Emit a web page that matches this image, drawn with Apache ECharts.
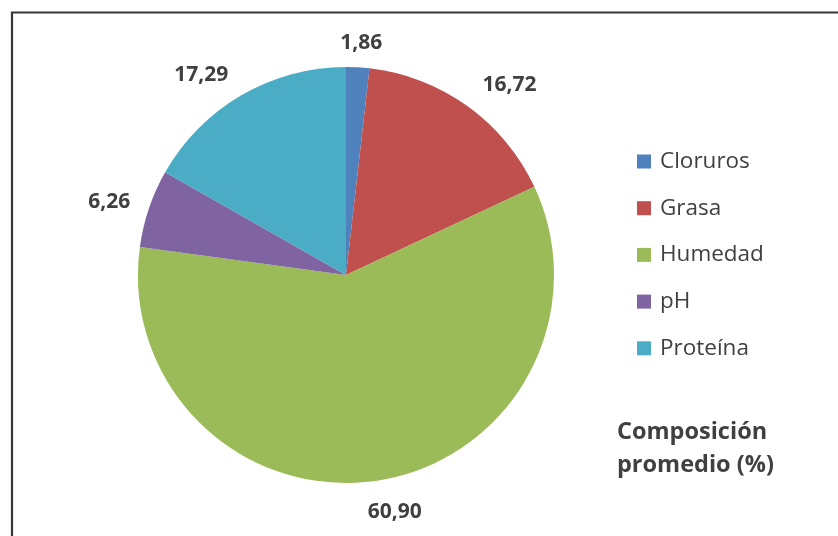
<!DOCTYPE html>
<html>
<head>
<meta charset="utf-8">
<script src="https://cdn.jsdelivr.net/npm/echarts@6/dist/echarts.min.js"></script>
<style>
  html, body { margin: 0; padding: 0; background: #ffffff; }
  #chart { width: 838px; height: 536px; }
</style>
</head>
<body>
<div id="chart"></div>
<script>
// Average composition of the product, in percent
const categories = ['Cloruros', 'Grasa', 'Humedad', 'pH', 'Proteína'];
const values = [1.86, 16.72, 60.90, 6.26, 17.29];
const colors = ['#4F81BD', '#C0504D', '#9BBB59', '#8064A2', '#4BACC6'];
const titleText = 'Composición\npromedio (%)';

const FONT = '"Open Sans"';
const TEXT = '#404040';

// small tweaks to where the value labels sit around the pie
const labelTweaks = {
  'Cloruros': { centre: 0.5, dx: 2, dy: 2 },
  'Humedad': { centre: 0.25, dy: 6 },
  'pH': { dx: 6, dy: 2 },
  'Proteína': { dy: 2 }
};

const chart = echarts.init(document.getElementById('chart'), null, { renderer: 'canvas' });

const pieData = categories.map((name, i) => ({
  name: name,
  value: values[i],
  itemStyle: { color: colors[i] }
}));

chart.setOption({
  backgroundColor: '#ffffff',
  animation: false,
  title: {
    text: titleText,
    left: 612,
    top: 411,
    textStyle: {
      fontFamily: FONT,
      fontSize: 23.5,
      fontWeight: 'bold',
      color: TEXT,
      lineHeight: 33
    }
  },
  legend: {
    orient: 'vertical',
    left: 632,
    top: 145,
    icon: 'rect',
    itemWidth: 14,
    itemHeight: 14,
    itemGap: 23.7,
    selectedMode: false,
    data: categories,
    textStyle: {
      fontFamily: FONT,
      fontSize: 22.5,
      lineHeight: 22,
      color: TEXT,
      padding: [0, 0, 0, 4]
    }
  },
  graphic: [{
    type: 'rect',
    silent: true,
    shape: { x: 12, y: 12.5, width: 1000, height: 1000 },
    style: { fill: 'none', stroke: '#383838', lineWidth: 2.2 }
  }],
  series: [{
    type: 'pie',
    center: [346, 275],
    radius: 208,
    startAngle: 90,
    clockwise: true,
    avoidLabelOverlap: false,
    data: pieData,
    label: {
      show: true,
      position: 'outside',
      distanceToLabelLine: 0,
      fontFamily: FONT,
      fontSize: 21,
      fontWeight: 'bold',
      color: TEXT,
      formatter: p => p.value.toFixed(2).replace('.', ',')
    },
    labelLine: { show: false, length: 26, length2: 0 },
    labelLayout: function (p) {
      const t = labelTweaks[categories[p.dataIndex]];
      if (!t) return {};
      return {
        dx: (t.dx || 0) - (t.centre || 0) * p.labelRect.width,
        dy: t.dy || 0
      };
    },
    emphasis: { disabled: true }
  }]
});
</script>
</body>
</html>
